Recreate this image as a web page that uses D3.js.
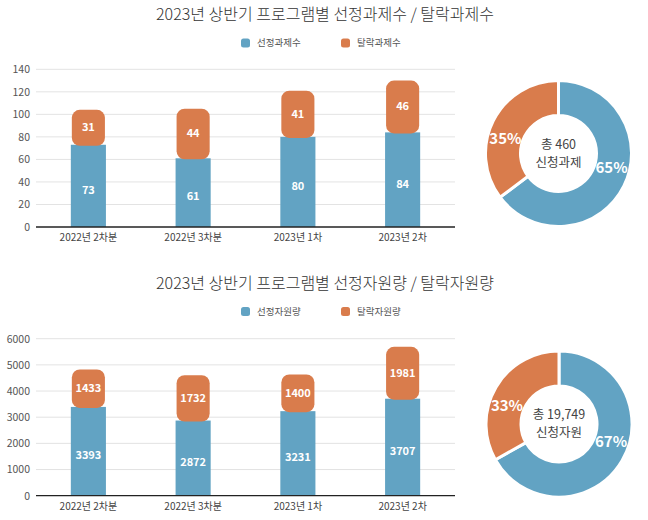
<!DOCTYPE html>
<html>
<head>
<meta charset="utf-8">
<script src="https://cdn.jsdelivr.net/npm/d3@7"></script>
<style>
  html, body { margin: 0; padding: 0; background: #fff; }
  svg { display: block; font-family: "Noto Sans CJK KR", "Noto Sans", sans-serif; }
</style>
</head>
<body>
<svg id="chart" width="648" height="520"></svg>
<script>
// ---- data ----
const categories = ["2022년 2차분", "2022년 3차분", "2023년 1차", "2023년 2차"];

const taskTitle = "2023년 상반기 프로그램별 선정과제수 / 탈락과제수";
const taskLegend = ["선정과제수", "탈락과제수"];
const selectedTasks = [73, 61, 80, 84];
const droppedTasks = [31, 44, 41, 46];
const taskTicks = [0, 20, 40, 60, 80, 100, 120, 140];
const taskCenterLabel = "신청과제";

const fundTitle = "2023년 상반기 프로그램별 선정자원량 / 탈락자원량";
const fundLegend = ["선정자원량", "탈락자원량"];
const selectedFunds = [3393, 2872, 3231, 3707];
const droppedFunds = [1433, 1732, 1400, 1981];
const fundTicks = [0, 1000, 2000, 3000, 4000, 5000, 6000];
const fundCenterLabel = "신청자원";

// ---- style ----
const BLUE = "#62a3c3";
const ORANGE = "#d97c4c";
const svg = d3.select("#chart");

function panel(cfg) {
  const g = svg.append("g");
  // title
  g.append("text")
    .attr("x", 325).attr("y", cfg.titleY)
    .attr("text-anchor", "middle")
    .attr("font-size", 16).attr("fill", "#333")
    .attr("font-weight", 300)
    .text(cfg.title);

  // legend
  const lg = g.append("g");
  const legendX = [241, 341];
  cfg.legend.forEach((lab, i) => {
    lg.append("rect")
      .attr("x", legendX[i]).attr("y", cfg.legendY - 4.5)
      .attr("width", 9).attr("height", 9).attr("rx", 2.5)
      .attr("fill", i === 0 ? BLUE : ORANGE);
    lg.append("text")
      .attr("x", legendX[i] + 16).attr("y", cfg.legendY)
      .attr("dy", "0.35em")
      .attr("font-size", 9.5).attr("fill", "#555")
      .text(lab);
  });

  // scales
  const x = d3.scaleBand().domain(categories).range([36, 455]).paddingInner(0.665).paddingOuter(0.3325);
  const y = d3.scaleLinear().domain([0, d3.max(cfg.ticks)]).range([cfg.y0, cfg.y1]);

  // grid
  g.append("g").selectAll("line").data(cfg.ticks.filter(t => t > 0)).join("line")
    .attr("x1", 36).attr("x2", 455)
    .attr("y1", d => y(d)).attr("y2", d => y(d))
    .attr("stroke", "#e3e3e3").attr("stroke-width", 1);

  // y axis labels
  const ya = g.append("g").attr("transform", "translate(30,0)")
    .call(d3.axisLeft(y).tickValues(cfg.ticks).tickSize(0).tickPadding(0).tickFormat(d3.format("d")));
  ya.select(".domain").remove();
  ya.selectAll("text").attr("font-size", 10.5).attr("fill", "#555")
    .attr("font-family", "\"Noto Sans CJK KR\", sans-serif");

  // bars
  const rows = categories.map((c, i) => ({ c, s: cfg.sel[i], d: cfg.drop[i] }));
  const bw = x.bandwidth();
  g.append("g").selectAll("rect").data(rows).join("rect")
    .attr("x", r => x(r.c)).attr("width", bw)
    .attr("y", r => y(r.s)).attr("height", r => y(0) - y(r.s))
    .attr("fill", BLUE);
  g.append("g").selectAll("rect").data(rows).join("rect")
    .attr("x", r => x(r.c) + 1).attr("width", bw - 2)
    .attr("y", r => y(r.s + r.d)).attr("height", r => y(r.s) - y(r.s + r.d) + 1)
    .attr("rx", 8).attr("ry", 8)
    .attr("fill", ORANGE);

  // bar labels
  const lab = g.append("g").attr("font-size", 11).attr("font-weight", 700)
    .attr("fill", "#fff").attr("text-anchor", "middle");
  lab.selectAll("text.s").data(rows).join("text").attr("class", "s")
    .attr("x", r => x(r.c) + bw / 2)
    .attr("y", r => (y(r.s) + y(0)) / 2 + 4)
    .attr("dy", "0.35em")
    .text(r => r.s);
  lab.selectAll("text.d").data(rows).join("text").attr("class", "d")
    .attr("x", r => x(r.c) + bw / 2)
    .attr("y", r => (y(r.s) + y(r.s + r.d)) / 2)
    .attr("dy", "0.35em")
    .text(r => r.d);

  // x axis
  const xa = g.append("g").attr("transform", `translate(0,${y(0)})`)
    .call(d3.axisBottom(x).tickSize(0).tickPadding(7).tickSizeOuter(0));
  xa.select(".domain").attr("stroke", "#222").attr("stroke-width", 1.3).attr("d", "M36,0H455");
  xa.selectAll("text").attr("font-size", 10).attr("fill", "#444")
    .attr("font-family", "\"Noto Sans CJK KR\", sans-serif");

  // donut
  const totS = d3.sum(cfg.sel), totD = d3.sum(cfg.drop), tot = totS + totD;
  const pie = d3.pie().sort(null).value(d => d.v);
  const arcs = pie([{ v: totS, c: BLUE }, { v: totD, c: ORANGE }]);
  const arc = d3.arc().innerRadius(38).outerRadius(73);
  const dg = g.append("g").attr("transform", `translate(${cfg.cx},${cfg.cy})`);
  dg.selectAll("path").data(arcs).join("path")
    .attr("d", arc).attr("fill", d => d.data.c)
    .attr("stroke", "#fff").attr("stroke-width", 3);
  dg.selectAll("text.p").data(arcs).join("text").attr("class", "p")
    .attr("transform", d => {
      const a = (d.startAngle + d.endAngle) / 2 - 0.2;
      return `translate(${Math.sin(a) * 55},${-Math.cos(a) * 55})`;
    })
    .attr("text-anchor", "middle").attr("dy", "0.35em")
    .attr("font-size", 15).attr("font-weight", 700).attr("fill", "#fff")
    .text(d => Math.round(d.data.v / tot * 100) + "%");
  dg.append("text").attr("text-anchor", "middle").attr("y", -9).attr("dy", "0.35em")
    .attr("font-size", 12.5).attr("fill", "#444")
    .text("총 " + d3.format(",")(tot));
  dg.append("text").attr("text-anchor", "middle").attr("y", 9).attr("dy", "0.35em")
    .attr("font-size", 12.5).attr("fill", "#444")
    .text(cfg.center);
}

panel({
  title: taskTitle, titleY: 20, legend: taskLegend, legendY: 43,
  sel: selectedTasks, drop: droppedTasks, ticks: taskTicks,
  y0: 227, y1: 69.3, cx: 558.5, cy: 153.5, center: taskCenterLabel
});
panel({
  title: fundTitle, titleY: 289, legend: fundLegend, legendY: 311.5,
  sel: selectedFunds, drop: droppedFunds, ticks: fundTicks,
  y0: 495.7, y1: 338.7, cx: 559, cy: 424, center: fundCenterLabel
});
</script>
</body>
</html>
